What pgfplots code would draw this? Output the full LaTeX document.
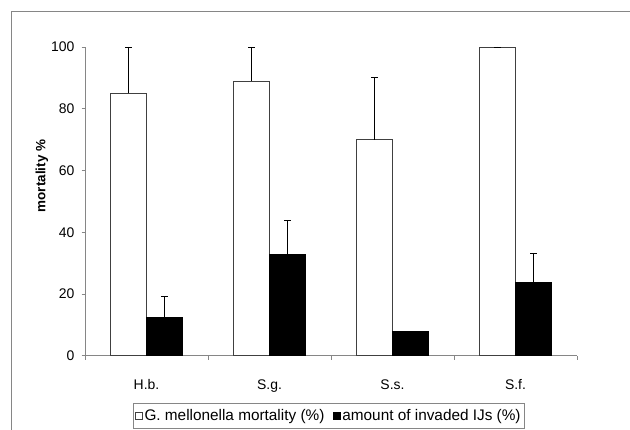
\documentclass[border=0pt]{standalone}
\usepackage{fontspec}
\setmainfont{Liberation Sans}
\usepackage{pgfplots}
\pgfplotsset{compat=1.18}
\definecolor{axgray}{HTML}{868686}
\definecolor{bardraw}{HTML}{404040}
\begin{document}
\begin{tikzpicture}
\useasboundingbox (0,0) rectangle (630bp,430bp);
\clip (0,0) rectangle (630bp,430bp);
\fill[white] (0,0) rectangle (630bp,430bp);
\draw[axgray, line width=0.8bp] (11.7bp,-5bp) -- (11.7bp,419bp) -- (640bp,419bp);
\begin{axis}[
  at={(85bp,74.3bp)}, anchor=south west,
  scale only axis, width=492bp, height=308.7bp,
  xmin=-0.5, xmax=3.5, ymin=0, ymax=100,
  clip=false,
  axis x line*=bottom, axis y line*=left,
  axis line style={axgray, line width=0.8bp, -},
  ybar=0pt, bar width=36bp,
  xtick={0,1,2,3}, xticklabels={H.b.,S.g.,S.s.,S.f.},
  major x tick style={draw=none},
  minor xtick={-0.5,0.5,1.5,2.5,3.5},
  minor x tick style={axgray, line width=0.8bp},
  minor tick length=4bp,
  ytick={0,20,40,60,80,100},
  major tick length=3.5bp,
  y tick style={axgray, line width=0.8bp},
  tick align=outside,
  /pgf/number format/assume math mode=true,
  tick label style={font=\fontsize{14}{16}\selectfont, text=black},
  yticklabel style={inner sep=0pt, xshift=-6.8bp},
  xticklabel style={inner sep=0pt, yshift=-20bp},
  legend columns=2,
  legend style={at={(0.0976,-0.1532)}, anchor=north west, draw=axgray, line width=0.8bp,
    font=\fontsize{15.4}{18}\selectfont, inner xsep=2bp, inner ysep=4bp,
    /tikz/every even column/.append style={column sep=7bp}},
  error bars/error mark=|,
  error bars/error bar style={black, line width=0.8bp},
  error bars/error mark options={black, line width=0.8bp, mark size=3.5bp},
]
\addplot[fill=white, draw=bardraw, line width=0.9bp,
  legend image code/.code={\draw[fill=white, draw=bardraw, line width=0.7bp] (0bp,-3.2bp) rectangle (6.4bp,3.2bp);},
  error bars/.cd, y dir=plus, y explicit]
  coordinates {(0,85) +- (0,15) (1,89) +- (0,11) (2,70) +- (0,20) (3,100) +- (0,0)};
\addplot[fill=black, draw=black, line width=0.9bp,
  legend image code/.code={\draw[fill=black, draw=black, line width=0.6bp] (0bp,-3.2bp) rectangle (6.4bp,3.2bp);},
  error bars/.cd, y dir=plus, y explicit]
  coordinates {(0,12.5) +- (0,6.6) (1,32.7) +- (0,11) (2,8) +- (0,0) (3,23.7) +- (0,9.4)};
\legend{G. mellonella mortality (\%), amount of invaded IJs (\%)}
\end{axis}
\node[rotate=90, font=\bfseries\fontsize{13.5}{15}\selectfont] at (42bp,254bp) {mortality \%};
\end{tikzpicture}
\end{document}
